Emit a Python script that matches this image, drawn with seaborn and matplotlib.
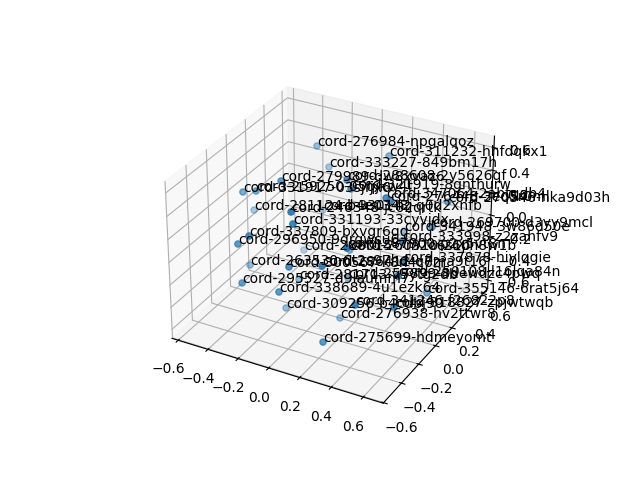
# 3d scatter of the document embedding, each point labelled with its cord id
import matplotlib
matplotlib.use('Agg')
import matplotlib.pyplot as plt
import seaborn as sns

names = ['cord-276984-npgalqoz', 'cord-311232-hhfdqkx1', 'cord-333227-849bm17h', 'cord-279989-dw8xvaz6', 'cord-288608-2y5626qf',
         'cord-259250-05qjkw4t', 'cord-331917-03sjfjx6', 'cord-321919-8gnthurw', 'cord-347064-2abtqdb4', 'cord-276448-3eq5r0ml',
         'cord-270546-hka9d03h', 'cord-281124-b4e0348j', 'cord-246348-jc02qrtk', 'cord-330142-q0d2xnfb', 'cord-331193-33cyvjdx',
         'cord-341948-3w86d50e', 'cord-269700-d3yy9mcl', 'cord-337809-bxvgr6qg', 'cord-296950-9qrgwsu6', 'cord-333998-z2zahfv9',
         'cord-288015-7m2o6s1p', 'cord-287900-p2x5vt8n', 'cord-260910-260h8w1b', 'cord-263530-6t2s97hd', 'cord-300567-k8n4c6zr',
         'cord-286412-q7ma9t16', 'cord-281713-v5ytg2db', 'cord-257899-8dewdzc4pwq', 'cord-337878-hiylqgie', 'cord-250108-l16lqa84n',
         'cord-295527-d9laumm7', 'cord-338689-4u1ezk64', 'cord-355146-6rat5j64', 'cord-309256-b4cdbj90', 'cord-341246-f26822p8',
         'cord-318827-zpjwtwqb', 'cord-276938-hv2ttwr8', 'cord-275699-hdmeyomt']
x_vals = [-0.126, 0.291, -0.08, -0.097, 0.217, -0.274, -0.337, 0.284, 0.5, 0.534, 0.683, -0.399, 0.123, -0.096, 0.12, 0.427, 0.703, -0.122, -0.202,
          0.659, -0.138, 0.483, 0.183, -0.297, 0.127, 0.332, -0.033, 0.211, 0.69, 0.703, -0.174, 0.062, 0.702, -0.058, 0.533, 0.702, 0.225, 0.337]
y_vals = [0.134, 0.214, 0.188, -0.294, -0.124, -0.271, -0.306, -0.197, -0.197, -0.215, 0.178, -0.103, -0.55, 0.148, -0.528, 0.152, -0.045, -0.584, -0.572,
          -0.305, 0.005, -0.584, -0.028, -0.314, -0.584, -0.585, -0.223, -0.098, -0.349, -0.425, -0.584, -0.585, -0.083, -0.323, -0.584, -0.462, -0.21, -0.585]
z_vals = [0.68, 0.68, 0.476, 0.68, 0.68, 0.517, 0.511, 0.679, 0.679, 0.679, 0.445, 0.188, 0.679, 0.117, 0.562, 0.118, 0.399, 0.413, 0.306,
          0.455, -0.153, 0.538, -0.008, -0.108, 0.244, 0.331, -0.201, -0.194, 0.323, 0.267, -0.011, 0.004, -0.146, -0.393, 0.079, 0.033, -0.46, -0.322]
ticks = [-0.6, -0.4, -0.2, 0.0, 0.2, 0.4, 0.6]

fig = plt.figure(figsize=(6.4, 4.8))
ax = fig.add_subplot(projection='3d')
ax.view_init(elev=30, azim=-61.5)
ax.scatter(x_vals, y_vals, z_vals, color=sns.color_palette('tab10')[0])

# label every point with its id
for x, y, z, name in zip(x_vals, y_vals, z_vals, names):
    ax.text(x, y, z, name)

ax.set_xlim(-0.642, 0.723)
ax.set_ylim(-0.605, 0.66)
ax.set_zlim(-0.68, 0.70)
ax.set_xticks(ticks)
ax.set_yticks(ticks)
ax.set_zticks(ticks)

plt.savefig('out.png', dpi=100)
